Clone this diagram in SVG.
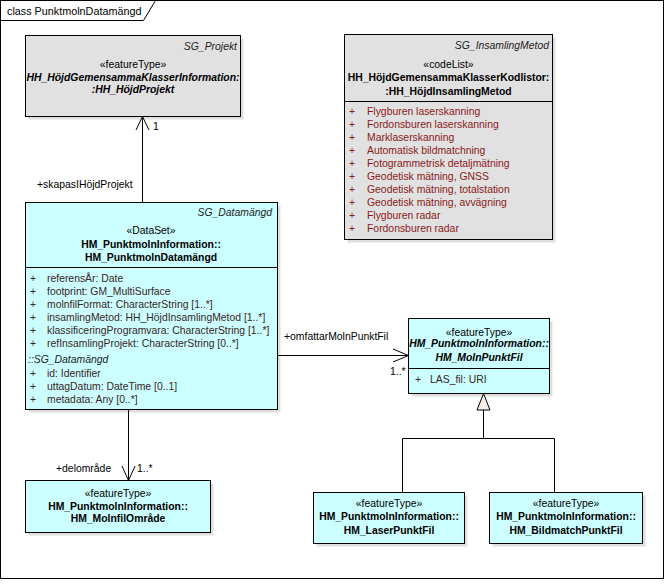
<svg xmlns="http://www.w3.org/2000/svg" width="667" height="588" viewBox="0 0 667 588">
<defs>
<style>
text{font-family:"Liberation Sans",Arial,sans-serif;font-size:10.4px;fill:#000}
.c{text-anchor:middle}
.r{text-anchor:end}
.b{font-weight:bold}
.i{font-style:italic}
.sg{font-style:italic;fill:#222}
.lit{fill:#8b1a1a}
.att{fill:#3a2424}
.box{stroke:#000;stroke-width:1}
.gray{fill:#e1e1e1}
.cyan{fill:#ccffff}
.sh{fill:#000;opacity:0.13}
.sep{stroke:#000;stroke-width:1}
.ln{fill:none;stroke:#000;stroke-width:1}
</style>
</defs>
<rect x="0" y="0" width="667" height="588" fill="#fff"/>
<g id="frame">
<rect x="0.5" y="0.5" width="663" height="578" fill="none" stroke="#000"/>
<path d="M0.5,20.5 H143.5 L155.5,0.5" fill="none" stroke="#000"/>
<text x="7" y="15" style="font-size:10.8px">class PunktmolnDatamängd</text>
</g>
<g id="connectors">
<path class="ln" d="M142.5,202.5 V116.5"/>
<polyline class="ln" points="136,130 142.5,116.5 149,130"/>
<text x="37" y="187.5">+skapasIHöjdProjekt</text>
<text x="153" y="130">1</text>
<path class="ln" d="M277.5,355.5 H408.5"/>
<polyline class="ln" points="393,349 408.5,355.5 393,362"/>
<text x="284" y="339.5">+omfattarMolnPunktFil</text>
<text x="390" y="375">1..*</text>
<path class="ln" d="M128.5,409.5 V480.5"/>
<polyline class="ln" points="122,466 128.5,480.5 135,466"/>
<text x="56" y="471.5">+delområde</text>
<text x="137" y="471.5">1..*</text>
<path class="ln" d="M483.5,410 V438.5 M402.5,492.5 V438.5 H554.5 V492.5"/>
<polygon points="483.5,393.5 477,410 490,410" fill="#f6f0e8" stroke="#000"/>
</g>
<g id="SG_Projekt">
<rect class="sh" x="28.5" y="38.5" width="215" height="81"/>
<rect class="box gray" x="25.5" y="35.5" width="215" height="81"/>
<text class="r sg" x="237" y="50">SG_Projekt</text>
<text class="c" x="133" y="68">«featureType»</text>
<text class="c b i" x="133" y="80.5">HH_HöjdGemensammaKlasserInformation:</text>
<text class="c b i" x="133" y="93">:HH_HöjdProjekt</text>
</g>
<g id="SG_InsamlingMetod">
<rect class="sh" x="347.5" y="37.5" width="208" height="205"/>
<rect class="box gray" x="344.5" y="34.5" width="208" height="205"/>
<line class="sep" x1="344.5" y1="101.5" x2="552.5" y2="101.5"/>
<text class="r sg" x="549" y="48.5">SG_InsamlingMetod</text>
<text class="c" x="448.5" y="67.5">«codeList»</text>
<text class="c b" x="448.5" y="80.5">HH_HöjdGemensammaKlasserKodlistor:</text>
<text class="c b" x="448.5" y="95">:HH_HöjdInsamlingMetod</text>
<g class="lit">
<text class="lit" x="349" y="114.5">+</text><text class="lit" x="367" y="114.5">Flygburen laserskanning</text>
<text class="lit" x="349" y="127.6">+</text><text class="lit" x="367" y="127.6">Fordonsburen laserskanning</text>
<text class="lit" x="349" y="140.7">+</text><text class="lit" x="367" y="140.7">Marklaserskanning</text>
<text class="lit" x="349" y="153.8">+</text><text class="lit" x="367" y="153.8">Automatisk bildmatchning</text>
<text class="lit" x="349" y="166.9">+</text><text class="lit" x="367" y="166.9">Fotogrammetrisk detaljmätning</text>
<text class="lit" x="349" y="180">+</text><text class="lit" x="367" y="180">Geodetisk mätning, GNSS</text>
<text class="lit" x="349" y="193.1">+</text><text class="lit" x="367" y="193.1">Geodetisk mätning, totalstation</text>
<text class="lit" x="349" y="206.2">+</text><text class="lit" x="367" y="206.2">Geodetisk mätning, avvägning</text>
<text class="lit" x="349" y="219.3">+</text><text class="lit" x="367" y="219.3">Flygburen radar</text>
<text class="lit" x="349" y="232.4">+</text><text class="lit" x="367" y="232.4">Fordonsburen radar</text>
</g>
</g>
<g id="HM_PunktmolnDatamangd">
<rect class="sh" x="28.5" y="205.5" width="252" height="207"/>
<rect class="box cyan" x="25.5" y="202.5" width="252" height="207"/>
<line class="sep" x1="25.5" y1="267.5" x2="277.5" y2="267.5"/>
<text class="r sg" x="272" y="215.5">SG_Datamängd</text>
<text class="c" x="151" y="233.5">«DataSet»</text>
<text class="c b" x="151" y="247.5">HM_PunktmolnInformation::</text>
<text class="c b" x="151" y="260.5">HM_PunktmolnDatamängd</text>
<text class="att" x="30" y="281.5">+</text><text class="att" x="47" y="281.5">referensÅr: Date</text>
<text class="att" x="30" y="294.5">+</text><text class="att" x="47" y="294.5">footprint: GM_MultiSurface</text>
<text class="att" x="30" y="307.5">+</text><text class="att" x="47" y="307.5">molnfilFormat: CharacterString [1..*]</text>
<text class="att" x="30" y="320.5">+</text><text class="att" x="47" y="320.5">insamlingMetod: HH_HöjdInsamlingMetod [1..*]</text>
<text class="att" x="30" y="333.5">+</text><text class="att" x="47" y="333.5">klassificeringProgramvara: CharacterString [1..*]</text>
<text class="att" x="30" y="346.5">+</text><text class="att" x="47" y="346.5">refInsamlingProjekt: CharacterString [0..*]</text>
<text class="sg" x="28" y="362.5">::SG_Datamängd</text>
<text class="att" x="30" y="376.5">+</text><text class="att" x="47" y="376.5">id: Identifier</text>
<text class="att" x="30" y="389.5">+</text><text class="att" x="47" y="389.5">uttagDatum: DateTime [0..1]</text>
<text class="att" x="30" y="402.5">+</text><text class="att" x="47" y="402.5">metadata: Any [0..*]</text>
</g>
<g id="HM_MolnPunktFil">
<rect class="sh" x="411.5" y="321.5" width="141" height="75"/>
<rect class="box cyan" x="408.5" y="318.5" width="141" height="75"/>
<line class="sep" x1="408.5" y1="368.5" x2="549.5" y2="368.5"/>
<text class="c" x="479" y="335.5">«featureType»</text>
<text class="c b i" x="479" y="347">HM_PunktmolnInformation::</text>
<text class="c b i" x="479" y="360.5">HM_MolnPunktFil</text>
<text class="att" x="415" y="382.5">+</text><text class="att" x="430" y="382.5">LAS_fil: URI</text>
</g>
<g id="HM_MolnfilOmrade">
<rect class="sh" x="28.5" y="483.5" width="185" height="52"/>
<rect class="box cyan" x="25.5" y="480.5" width="185" height="52"/>
<text class="c" x="118" y="497">«featureType»</text>
<text class="c b" x="118" y="509.5">HM_PunktmolnInformation::</text>
<text class="c b" x="118" y="522">HM_MolnfilOmråde</text>
</g>
<g id="HM_LaserPunktFil">
<rect class="sh" x="316.5" y="495.5" width="151" height="51"/>
<rect class="box cyan" x="313.5" y="492.5" width="151" height="51"/>
<text class="c" x="389" y="506.5">«featureType»</text>
<text class="c b" x="389" y="520">HM_PunktmolnInformation::</text>
<text class="c b" x="389" y="533.5">HM_LaserPunktFil</text>
</g>
<g id="HM_BildmatchPunktFil">
<rect class="sh" x="492.5" y="495.5" width="153" height="51"/>
<rect class="box cyan" x="489.5" y="492.5" width="153" height="51"/>
<text class="c" x="566" y="506.5">«featureType»</text>
<text class="c b" x="566" y="520">HM_PunktmolnInformation::</text>
<text class="c b" x="566" y="533.5">HM_BildmatchPunktFil</text>
</g>
</svg>
